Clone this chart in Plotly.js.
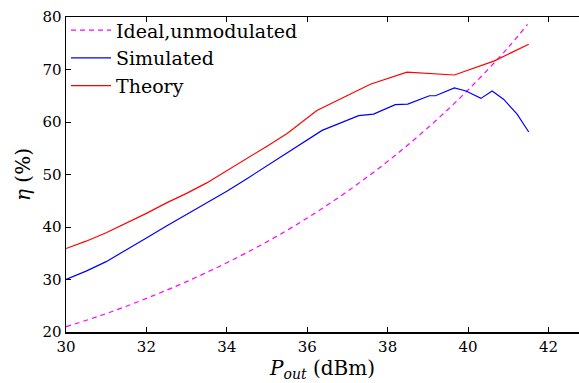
<!DOCTYPE html>
<html>
<head>
<meta charset="utf-8">
<script src="https://cdn.plot.ly/plotly-3.0.1.min.js"></script>
<style>html,body{margin:0;padding:0;background:#fff;}#chart{width:579px;height:383px;}</style>
</head>
<body>
<div id="chart"></div>
<script>
// Ideal, unmodulated (dashed magenta)
var idealX = [30, 31, 32, 33, 34, 35, 36, 37, 38, 39, 40, 41, 41.48];
var idealY = [21.0, 23.5, 26.4, 29.6, 33.2, 37.2, 41.7, 46.8, 52.5, 58.9, 66.1, 74.2, 78.6];

// Simulated (blue)
var simX = [30, 30.5, 31, 31.5, 32, 32.5, 33, 33.6, 34, 34.5, 35, 35.5, 36, 36.37, 37.28, 37.65, 38.19, 38.5, 39.04, 39.19, 39.66, 39.95, 40.32, 40.6, 40.89, 41.22, 41.51];
var simY = [30.0, 31.6, 33.4, 35.6, 37.9, 40.2, 42.4, 44.9, 46.8, 49.2, 51.7, 54.1, 56.6, 58.4, 61.2, 61.5, 63.3, 63.4, 65.0, 65.0, 66.5, 65.9, 64.5, 65.9, 64.3, 61.5, 58.1];

// Theory (red)
var thX = [30, 30.5, 31, 31.5, 32, 32.5, 33, 33.5, 34, 34.5, 35, 35.5, 36, 36.24, 37.57, 38.48, 39.66, 40.64, 41.51];
var thY = [35.9, 37.3, 38.9, 40.7, 42.6, 44.6, 46.4, 48.4, 50.7, 53.0, 55.4, 57.8, 60.8, 62.2, 67.2, 69.5, 68.95, 71.6, 74.8];

var xTicks = [30, 32, 34, 36, 38, 40, 42];
var yTicks = [20, 30, 40, 50, 60, 70, 80];

var serif = 'DejaVu Serif, Liberation Serif, serif';

var traces = [
  {x: idealX, y: idealY, name: 'Ideal,unmodulated', mode: 'lines', type: 'scatter',
   line: {color: '#ff00ff', width: 1.2, dash: '5px,4px', shape: 'spline'}},
  {x: simX, y: simY, name: 'Simulated', mode: 'lines', type: 'scatter',
   line: {color: '#0000ff', width: 1.2}},
  {x: thX, y: thY, name: 'Theory', mode: 'lines', type: 'scatter',
   line: {color: '#ff0000', width: 1.2}}
];

var layout = {
  width: 579, height: 383,
  margin: {l: 66, r: 0, t: 17, b: 51, pad: 0},
  paper_bgcolor: '#ffffff', plot_bgcolor: '#ffffff',
  font: {family: serif, color: '#000', size: 15},
  showlegend: true,
  legend: {x: 0.0, y: 1.018, xanchor: 'left', yanchor: 'top', bgcolor: 'rgba(0,0,0,0)',
           font: {family: serif, size: 19, color: '#000'}, itemwidth: 40, tracegroupgap: 0},
  xaxis: {range: [30, 42.76], tickvals: xTicks, ticktext: xTicks.map(String),
          ticks: 'inside', ticklen: 5, tickwidth: 1, tickcolor: '#000',
          showline: true, linecolor: '#000', linewidth: 1.5, mirror: 'ticks',
          showgrid: false, zeroline: false,
          tickfont: {family: serif, size: 15, color: '#000'},
          title: {text: '<i>P</i><sub><i>out</i></sub> (dBm)', font: {family: serif, size: 20, color: '#000'}, standoff: 2}},
  yaxis: {range: [20, 80], tickvals: yTicks, ticktext: yTicks.map(String),
          ticks: 'inside', ticklen: 5, tickwidth: 1, tickcolor: '#000',
          showline: true, linecolor: '#000', linewidth: 1.5, mirror: false,
          showgrid: false, zeroline: false,
          tickfont: {family: serif, size: 15, color: '#000'},
          title: {text: '<i>η</i> (%)', font: {family: serif, size: 20, color: '#000'}, standoff: 6}}
};

Plotly.newPlot('chart', traces, layout, {displayModeBar: false, staticPlot: true});
</script>
</body>
</html>
